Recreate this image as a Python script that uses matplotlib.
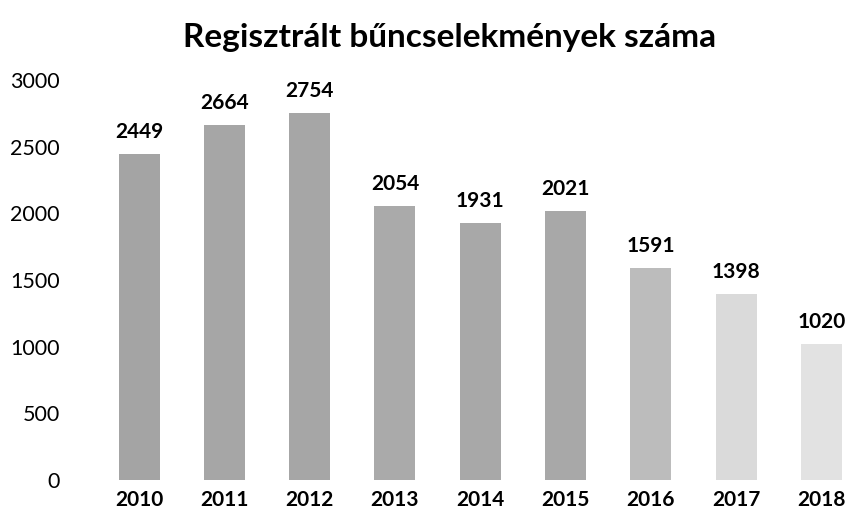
import matplotlib.pyplot as plt

### Data

years = ['2010', '2011', '2012', '2013', '2014', '2015', '2016', '2017', '2018']
counts = [2449, 2664, 2754, 2054, 1931, 2021, 1591, 1398, 1020]
yticks = [0, 500, 1000, 1500, 2000, 2500, 3000]

# scanned look: bars fade towards the right
bar_colors = ['#a4a4a4', '#a6a6a6', '#a6a6a6', '#aaaaaa', '#a8a8a8',
              '#a8a8a8', '#bcbcbc', '#dadada', '#e2e2e2']


### Plot

plt.rcParams['font.family'] = ['Lato', 'DejaVu Sans']

fig = plt.figure(figsize=(8.53, 5.2), dpi=100)
ax = fig.add_axes([0.088, 0.077, 0.91, 0.769])

x = list(range(len(years)))
bars = ax.bar(x, counts, width=0.48, color=bar_colors)

for xi, val in zip(x, counts):
    ax.text(xi, val + 90, str(val), ha='center', va='bottom',
            fontsize=15, fontweight='bold', clip_on=False)

ax.set_xlim(-0.75, 8.35)
ax.set_ylim(0, 3000)
ax.set_xticks(x)
ax.set_xticklabels(years, fontsize=15, fontweight='bold')
ax.set_yticks(yticks)
ax.set_yticklabels([str(t) for t in yticks], fontsize=15.5)
ax.tick_params(length=0)
ax.tick_params(axis='x', pad=7)
ax.tick_params(axis='y', pad=11)
for side in ax.spines.values():
    side.set_visible(False)

fig.text(0.527, 0.927, 'Regisztrált bűncselekmények száma', ha='center',
         va='center', fontsize=24, fontweight='bold')

fig.savefig('out.png', dpi=100)
plt.close(fig)
